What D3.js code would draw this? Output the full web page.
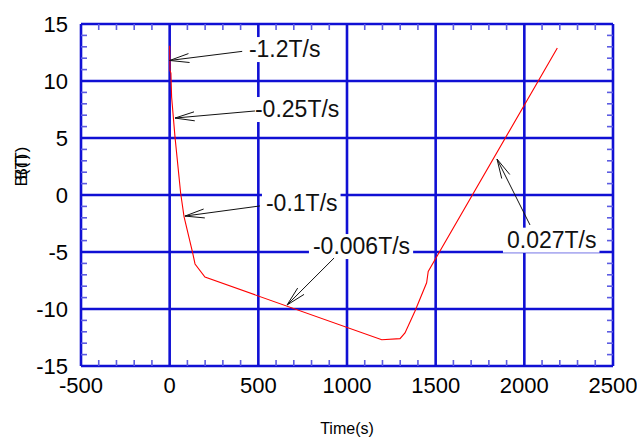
<!DOCTYPE html>
<html>
<head>
<meta charset="utf-8">
<script src="https://cdn.jsdelivr.net/npm/d3@7"></script>
<style>
  body { margin: 0; background: white; }
  text { font-family: Arial, "Liberation Sans", sans-serif; }
</style>
</head>
<body>
<svg id="chart" width="637" height="440"></svg>
<script>
/////////////////////////////////// DATA ///////////////////////////////////
var time  = [0, 2, 7, 11, 30, 62, 81, 130, 143, 199, 1196, 1299, 1327, 1383, 1449, 1458, 2186];
var field = [13.1, 10.9, 10.7, 8.6, 5.1, 0.15, -1.9, -5.1, -6.05, -7.2, -12.7, -12.6, -12.1, -10.2, -7.7, -6.7, 12.9];

var xTicks = [-500, 0, 500, 1000, 1500, 2000, 2500];
var yTicks = [-15, -10, -5, 0, 5, 10, 15];

// annotations : label, text anchor (t,B), arrow tail (t,B), arrow tip on curve (t,B)
var labels   = ["-1.2T/s", "-0.25T/s", "-0.1T/s", "-0.006T/s", "0.027T/s"];
var labelPos = [[447, 12.1], [481, 6.84], [543, -1.4], [808, -5.18], [1902, -4.62]];
var tailPos  = [[409, 12.6], [481, 7.37], [509, -0.96], [927, -5.53], [2032, -2.63]];
var tipPos   = [[0, 11.8], [30, 6.75], [86, -1.85], [662, -9.65], [1846, 3.15]];

/////////////////////////////////// SETUP ///////////////////////////////////
var blue = "#1010d4";
var lightBlue = "#5c5ce2";

var svg = d3.select("#chart");

var x = d3.scaleLinear().domain([-500, 2500]).range([81, 613]);
var y = d3.scaleLinear().domain([-15, 15]).range([366, 24]);

var minorX = d3.range(-500, 2501, 100).filter(function(d) { return d % 500 !== 0; });
var minorY = d3.range(-15, 16, 1).filter(function(d) { return d % 5 !== 0; });

/////////////////////////////////// GRID ///////////////////////////////////
var grid = svg.append("g").attr("class", "grid");

grid.selectAll("line.gx")
    .data(xTicks)
    .enter()
    .append("line")
    .attr("x1", function(d) { return x(d); })
    .attr("x2", function(d) { return x(d); })
    .attr("y1", y(15))
    .attr("y2", y(-15))
    .style("stroke", blue)
    .style("stroke-width", 2.6);

grid.selectAll("line.gy")
    .data(yTicks)
    .enter()
    .append("line")
    .attr("x1", x(-500))
    .attr("x2", x(2500))
    .attr("y1", function(d) { return y(d); })
    .attr("y2", function(d) { return y(d); })
    .style("stroke", blue)
    .style("stroke-width", 2.6);

// petites graduations (bas, haut, gauche, droite)
var ticks = svg.append("g").attr("class", "ticks");

[[y(-15), -6], [y(15), 6]].forEach(function(s) {
  ticks.selectAll(null)
      .data(minorX)
      .enter()
      .append("line")
      .attr("x1", function(d) { return x(d); })
      .attr("x2", function(d) { return x(d); })
      .attr("y1", s[0])
      .attr("y2", s[0] + s[1])
      .style("stroke", lightBlue)
      .style("stroke-width", 1.6);
});

[[x(-500), 6], [x(2500), -6]].forEach(function(s) {
  ticks.selectAll(null)
      .data(minorY)
      .enter()
      .append("line")
      .attr("x1", s[0])
      .attr("x2", s[0] + s[1])
      .attr("y1", function(d) { return y(d); })
      .attr("y2", function(d) { return y(d); })
      .style("stroke", lightBlue)
      .style("stroke-width", 1.6);
});

/////////////////////////////////// AXES LABELS ///////////////////////////////////
svg.append("g")
    .selectAll("text")
    .data(xTicks)
    .enter()
    .append("text")
    .attr("x", function(d) { return x(d); })
    .attr("y", 393)
    .attr("text-anchor", "middle")
    .style("font-size", "22px")
    .text(function(d) { return d; });

svg.append("g")
    .selectAll("text")
    .data(yTicks)
    .enter()
    .append("text")
    .attr("x", 68)
    .attr("y", function(d) { return y(d) + 8; })
    .attr("text-anchor", "end")
    .style("font-size", "22px")
    .text(function(d) { return d; });

svg.append("text")
    .attr("x", x(1000))
    .attr("y", 434)
    .attr("text-anchor", "middle")
    .style("font-size", "16px")
    .text("Time(s)");

// titre Y (deux libellés superposés comme dans l'original)
[0, -7].forEach(function(off) {
  svg.append("text")
      .attr("transform", "translate(27," + (170 + off) + ") rotate(-90)")
      .attr("text-anchor", "middle")
      .style("font-size", "17px")
      .text("B(T)");
});

/////////////////////////////////// COURBE ///////////////////////////////////
var points = time.map(function(t, i) { return [t, field[i]]; });

var line = d3.line()
    .x(function(d) { return x(d[0]); })
    .y(function(d) { return y(d[1]); });

svg.append("path")
    .datum(points)
    .attr("d", line)
    .style("fill", "none")
    .style("stroke", "#ff0000")
    .style("stroke-width", 1.1);

/////////////////////////////////// ANNOTATIONS ///////////////////////////////////
var notes = svg.append("g").attr("class", "notes");

labels.forEach(function(lib, i) {
  var g = notes.append("g");
  var rect = g.append("rect").style("fill", "white");
  var txt = g.append("text")
      .attr("x", x(labelPos[i][0]))
      .attr("y", y(labelPos[i][1]))
      .style("font-size", "23px")
      .style("fill", "#111")
      .text(lib);
  var bb = txt.node().getBBox();
  rect.attr("x", bb.x - 4)
      .attr("y", bb.y + 1)
      .attr("width", bb.width + 7)
      .attr("height", bb.height - 1);

  // flèche
  var x0 = x(tailPos[i][0]), y0 = y(tailPos[i][1]);
  var x1 = x(tipPos[i][0]),  y1 = y(tipPos[i][1]);
  var a = Math.atan2(y0 - y1, x0 - x1);
  var len = 20, spread = 13 * Math.PI / 180;
  var path = d3.path();
  path.moveTo(x0, y0);
  path.lineTo(x1, y1);
  path.moveTo(x1 + len * Math.cos(a - spread), y1 + len * Math.sin(a - spread));
  path.lineTo(x1, y1);
  path.lineTo(x1 + len * Math.cos(a + spread), y1 + len * Math.sin(a + spread));
  g.append("path")
      .attr("d", path.toString())
      .style("fill", "none")
      .style("stroke", "#111")
      .style("stroke-width", 1);
});
</script>
</body>
</html>
